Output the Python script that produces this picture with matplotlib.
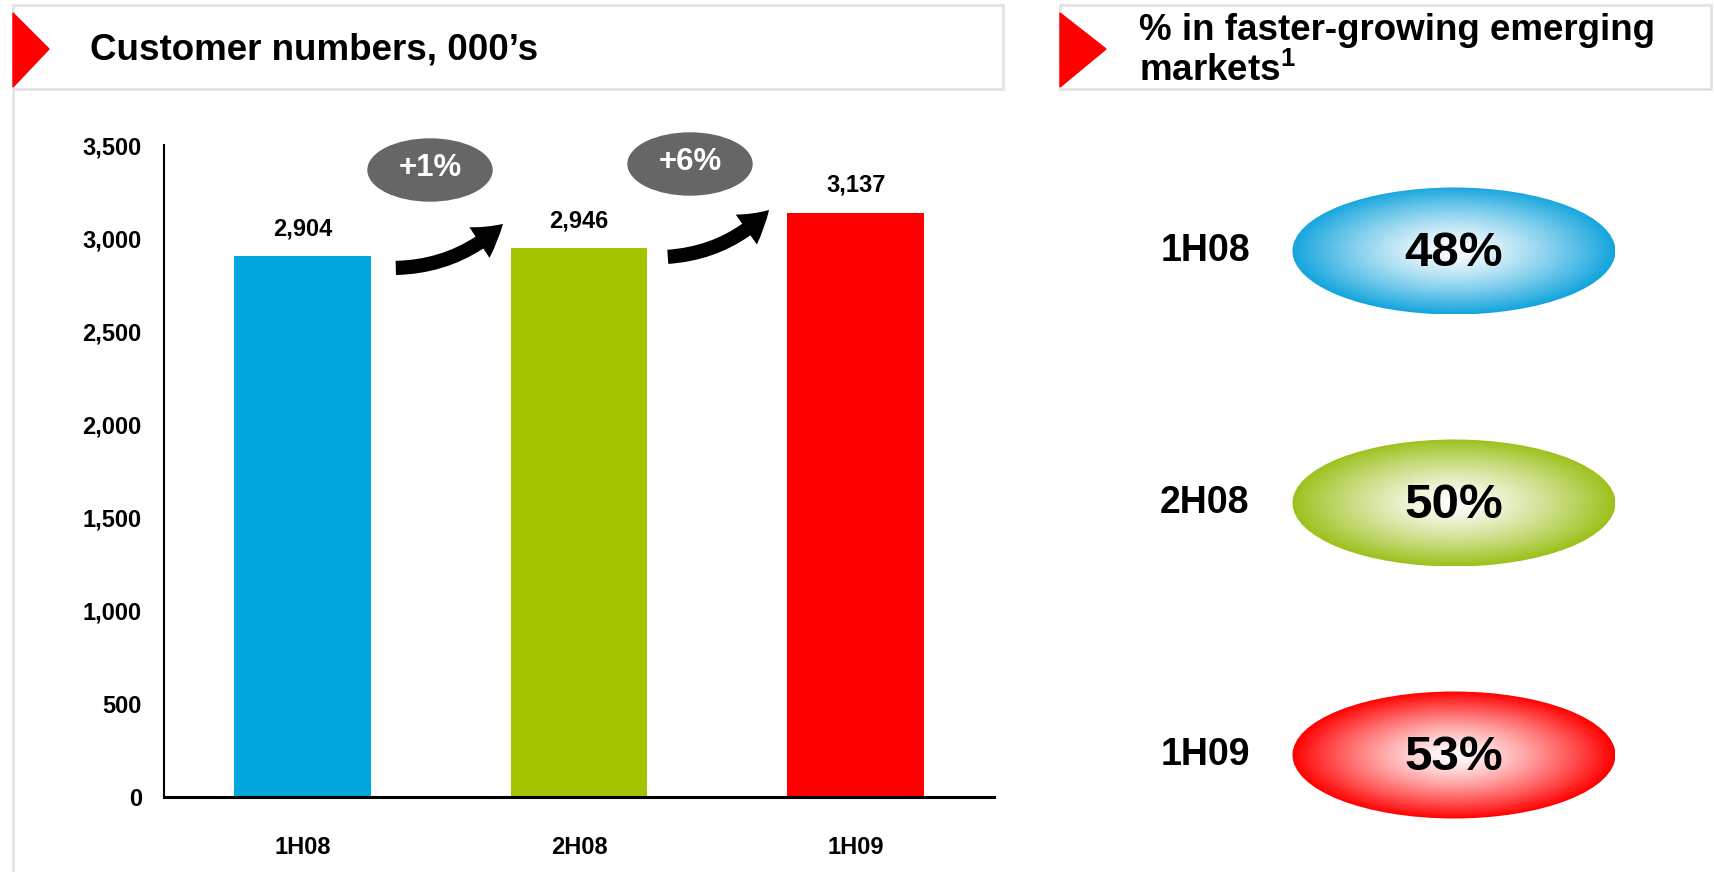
import numpy as np
import matplotlib
matplotlib.use("Agg")
import matplotlib.pyplot as plt
from matplotlib.patches import Ellipse, Polygon, Rectangle, FancyArrowPatch
from matplotlib.colors import to_rgb

plt.rcParams['font.family'] = ['Liberation Sans', 'DejaVu Sans']
plt.rcParams['font.weight'] = 'bold'
plt.rcParams['mathtext.fontset'] = 'custom'
plt.rcParams['mathtext.rm'] = 'Liberation Sans:bold'
plt.rcParams['mathtext.bf'] = 'Liberation Sans:bold'

# -- data --
periods = ["1H08", "2H08", "1H09"]
customers = [2904, 2946, 3137]           # 000's
growth = ["+1%", "+6%"]                  # between consecutive periods
emerging_pct = [48, 50, 53]              # % in faster-growing emerging markets
bar_colors = ["#00A6DE", "#A5C400", "#FF0000"]
yticks = [0, 500, 1000, 1500, 2000, 2500, 3000, 3500]

W, H = 1714, 872
fig = plt.figure(figsize=(W / 100, H / 100), dpi=100)

# bar chart
ax = fig.add_axes([164 / W, 1 - 797 / H, 830 / W, 652 / H])
x = np.arange(len(periods))
ax.bar(x, customers, width=0.495, color=bar_colors, zorder=2)
ax.set_xlim(-0.5, len(periods) - 0.5)
ax.set_ylim(0, 3500)
ax.set_yticks(yticks)
ax.set_yticklabels([f"{v:,}" for v in yticks], fontsize=17, fontweight='bold')
ax.set_xticks(x)
ax.set_xticklabels(periods, fontsize=17, fontweight='bold')
ax.tick_params(axis='y', length=0, pad=16)
ax.tick_params(axis='x', length=0, pad=28)
for s in ['top', 'right']:
    ax.spines[s].set_visible(False)
ax.spines['left'].set_linewidth(1.5)
ax.spines['bottom'].set_linewidth(2.2)
ax.patch.set_alpha(0)
for xi, v in zip(x, customers):
    ax.text(xi, v + 85, f"{v:,}", ha='center', va='bottom', fontsize=17, fontweight='bold')

# overlay in pixel coords for decorations
ov = fig.add_axes([0, 0, 1, 1], zorder=5)
ov.set_xlim(0, W)
ov.set_ylim(H, 0)
ov.axis('off')
ov.patch.set_alpha(0)

# header boxes
frame = "#E3E3E3"
ov.add_patch(Rectangle((13, 5), 990, 84, fill=False, ec=frame, lw=2))
ov.add_patch(Rectangle((1060, 5), 651, 84, fill=False, ec=frame, lw=2))
ov.plot([13, 13], [89, H], color=frame, lw=2)
ov.add_patch(Polygon([[13, 13], [49, 49], [13, 87]], color="#FF0000"))
ov.add_patch(Polygon([[1060, 13], [1106, 49], [1060, 87]], color="#FF0000"))
ov.text(90, 50, "Customer numbers, 000\u2019s", fontsize=26.5, fontweight='bold', va='center')
ov.text(1139, 31, "% in faster-growing emerging", fontsize=26.5, fontweight='bold', va='center')
ov.text(1139, 71, "markets$^{1}$", fontsize=26.5, fontweight='bold', va='center')

# growth bubbles + arrows
bubble_pos = [(430, 170), (690, 164)]
arrow_pos = [((393, 268), (505, 222)), ((665, 257), (771, 208))]
for (cx, cy), lab, (p0, p1) in zip(bubble_pos, growth, arrow_pos):
    ov.add_patch(Ellipse((cx, cy), 124, 62, color="#666666"))
    ov.text(cx, cy - 2, lab, color='white', fontsize=22.5, fontweight='bold', ha='center', va='center')
    ov.add_patch(FancyArrowPatch(p0, p1, connectionstyle="arc3,rad=0.2",
                                 arrowstyle="simple,head_width=2.2,head_length=1.8,tail_width=0.85",
                                 mutation_scale=12, color='black', lw=0))

# emerging market ellipses with radial gradient
ell_colors = ["#14A5DD", "#9DC11C", "#FF0000"]
ell_cy = [251, 503, 755]
ecx, ew, eh = 1454, 323, 127
n = 300
gx, gy = np.meshgrid(np.linspace(-1, 1, n), np.linspace(-1, 1, n))
r = np.clip(np.sqrt(gx ** 2 + gy ** 2), 0, 1)
t = r ** 1.3
for lab, pct, col, cy in zip(periods, emerging_pct, ell_colors, ell_cy):
    c = np.array(to_rgb(col))
    img = (1 - t)[..., None] * np.ones(3) + t[..., None] * c
    im = ov.imshow(img, extent=(ecx - ew / 2, ecx + ew / 2, cy + eh / 2, cy - eh / 2),
                   aspect='auto', interpolation='bilinear', zorder=2)
    clip = Ellipse((ecx, cy), ew, eh, transform=ov.transData, fc='none', ec='none')
    ov.add_patch(clip)
    im.set_clip_path(clip)
    ov.text(ecx, cy + 2, f"{pct}%", fontsize=35.5, fontweight='bold', ha='center', va='center', zorder=3)
    ov.text(1205, cy, lab, fontsize=27, fontweight='bold', ha='center', va='center')
ov.set_xlim(0, W)
ov.set_ylim(H, 0)

fig.savefig("out.png", dpi=100, facecolor='white')
